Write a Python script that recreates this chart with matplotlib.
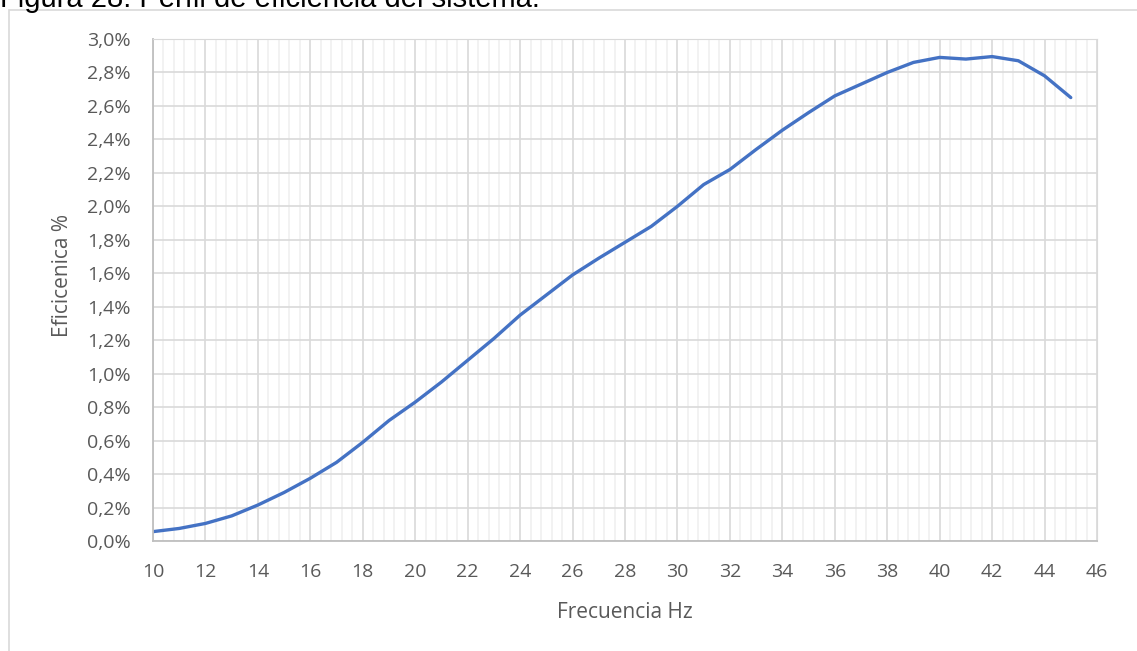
import numpy as np
import matplotlib.pyplot as plt
from matplotlib.ticker import MultipleLocator, FuncFormatter
from matplotlib.patches import Rectangle

# Datos
frecuencia = [10, 11, 12, 13, 14, 15, 16, 17, 18, 19, 20, 21, 22, 23, 24, 25, 26, 27,
              28, 29, 30, 31, 32, 33, 34, 35, 36, 37, 38, 39, 40, 41, 42, 43, 44, 45]
eficiencia = [0.056, 0.075, 0.105, 0.15, 0.215, 0.29, 0.375, 0.47, 0.59, 0.72, 0.83, 0.95,
              1.08, 1.21, 1.35, 1.47, 1.59, 1.69, 1.785, 1.88, 2.00, 2.13, 2.22, 2.34,
              2.455, 2.56, 2.66, 2.73, 2.80, 2.86, 2.89, 2.88, 2.895, 2.87, 2.78, 2.65]

plt.rcParams['font.family'] = ['Open Sans', 'DejaVu Sans']

W, H = 1137, 651
fig = plt.figure(figsize=(W / 100, H / 100), dpi=100)
ax = fig.add_axes([153 / W, 1 - 541 / H, (1097 - 153) / W, (541 - 39) / H])

# marco exterior
fig.patches.append(Rectangle((9 / W, -0.1), 1.2, 1 - 10 / H + 0.1,
                             transform=fig.transFigure, fill=False,
                             edgecolor='#d9d9d9', linewidth=1.2))

ax.plot(frecuencia, eficiencia, color='#4472C4', linewidth=2.4, solid_capstyle='round')

ax.set_xlim(10, 46)
ax.set_ylim(0, 3.0)
ax.xaxis.set_major_locator(MultipleLocator(2))
ax.xaxis.set_minor_locator(MultipleLocator(0.4))
ax.yaxis.set_major_locator(MultipleLocator(0.2))
ax.yaxis.set_major_formatter(FuncFormatter(lambda v, p: f"{v:.1f}%".replace('.', ',')))

ax.grid(which='major', color='#d9d9d9', linewidth=1.2)
ax.grid(which='minor', axis='x', color='#f0f0f0', linewidth=1.2)
ax.set_axisbelow(True)

for s in ['top', 'right']:
    ax.spines[s].set_color('#d9d9d9')
for s in ['left', 'bottom']:
    ax.spines[s].set_color('#bfbfbf')
    ax.spines[s].set_linewidth(1.3)

ax.tick_params(which='both', length=0, labelsize=14, colors='#595959')
ax.tick_params(axis='y', pad=16)
ax.tick_params(axis='x', pad=16)

fig.text(625 / W, 1 - 612 / H, "Frecuencia Hz", fontsize=15, color='#595959',
         ha='center', va='center')
fig.text(63 / W, 1 - 276 / H, "Eficicenica %", fontsize=15, color='#595959',
         ha='center', va='center', rotation=90)

fig.text(0.0, 1 - 7 / H, "Figura 28. Perfil de eficiencia del sistema.",
         fontsize=21, family='Liberation Sans', color='black', va='baseline', ha='left')

plt.savefig("out.png", dpi=100)
